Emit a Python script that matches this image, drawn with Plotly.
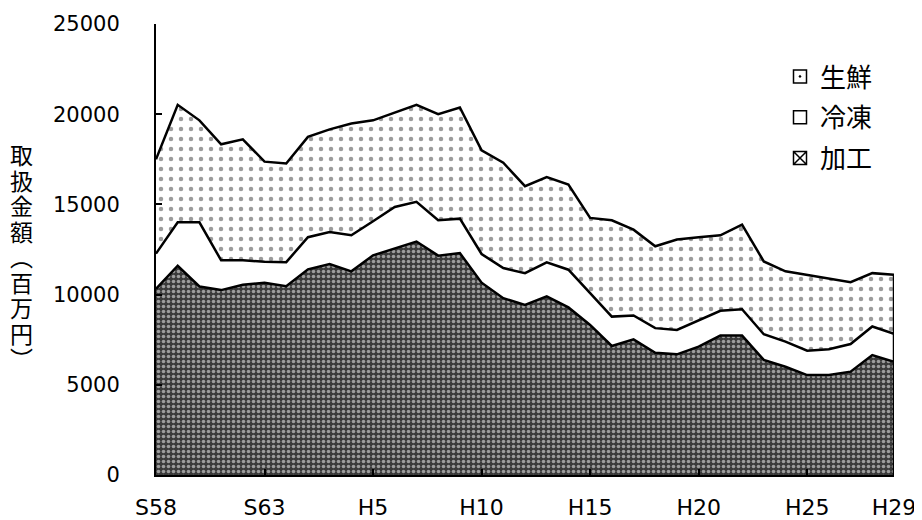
import plotly.graph_objects as go

years = ["S58", "S59", "S60", "S61", "S62", "S63"] + [f"H{i}" for i in range(1, 30)]
tick_labels = ["S58", "S63", "H5", "H10", "H15", "H20", "H25", "H29"]

kakou = [10320, 11600, 10450, 10250, 10550, 10660, 10470, 11400, 11690, 11290,
         12180, 12580, 12940, 12160, 12300, 10660, 9800, 9430, 9900, 9290,
         8320, 7150, 7520, 6780, 6690, 7120, 7730, 7730, 6380, 6000,
         5540, 5540, 5730, 6650, 6280]
reitou = [1950, 2410, 3560, 1650, 1350, 1160, 1330, 1780, 1780, 2000,
          1890, 2280, 2200, 1960, 1910, 1590, 1670, 1760, 1890, 2090,
          1760, 1630, 1320, 1360, 1350, 1440, 1370, 1460, 1420, 1390,
          1350, 1430, 1530, 1580, 1540]
seisen = [5230, 6510, 5650, 6430, 6710, 5550, 5470, 5560, 5690, 6190,
          5590, 5230, 5380, 5880, 6160, 5750, 5840, 4820, 4720, 4720,
          4170, 5340, 4760, 4540, 5010, 4620, 4190, 4690, 4040, 3900,
          4210, 3950, 3430, 2960, 3280]

names = ["加工", "冷凍", "生鮮"]
ytitle = "取扱金額︵百万円︶"

JP = "Noto Sans CJK JP"
NUM = "DejaVu Sans"

fig = go.Figure()
line = dict(color="black", width=2.5)

fig.add_trace(go.Scatter(
    x=years, y=kakou, name=names[0], stackgroup="one", mode="lines", line=line,
    fillcolor="#3a3a3a",
    fillpattern=dict(shape=".", fgcolor="white", bgcolor="#3a3a3a", size=5, solidity=0.4),
    showlegend=False))
fig.add_trace(go.Scatter(
    x=years, y=reitou, name=names[1], stackgroup="one", mode="lines", line=line,
    fillcolor="white", showlegend=False))
fig.add_trace(go.Scatter(
    x=years, y=seisen, name=names[2], stackgroup="one", mode="lines", line=line,
    fillcolor="white",
    fillpattern=dict(shape=".", fgcolor="#3a3a3a", bgcolor="white", size=10, solidity=0.16),
    showlegend=False))

# right edge of the stacked area
last_total = kakou[-1] + reitou[-1] + seisen[-1]
fig.add_trace(go.Scatter(x=[years[-1], years[-1]], y=[0, last_total], mode="lines",
                         line=line, showlegend=False, hoverinfo="skip"))

# legend entries
for nm, sym in [(names[2], "square-open-dot"), (names[1], "square-open"), (names[0], "square-x-open")]:
    fig.add_trace(go.Scatter(x=[None], y=[None], mode="markers", name=nm, legendgroup=nm,
                             marker=dict(symbol=sym, size=13, color="black",
                                         line=dict(color="black", width=1.5))))

# vertical y-axis title, one character per annotation
for k, ch in enumerate(ytitle):
    yc = 154 + k * 25.5
    fig.add_annotation(text=ch, xref="paper", yref="paper",
                       x=(21 - 156) / 738, y=(475 - yc) / 451,
                       showarrow=False, font=dict(family=JP, size=23, color="black"),
                       xanchor="center", yanchor="middle")

# the page body adds an 8px offset, so the figure is 8px smaller with 8px less left/top margin
fig.update_layout(
    width=914, height=512,
    margin=dict(l=148, r=28, t=16, b=45),
    paper_bgcolor="white", plot_bgcolor="white",
    showlegend=True,
    legend=dict(x=(780 - 156) / 738, y=(475 - 53) / 451, xanchor="left", yanchor="top",
                font=dict(family=JP, size=26, color="black"),
                traceorder="grouped", tracegroupgap=4, bgcolor="rgba(0,0,0,0)"),
    xaxis=dict(type="category", range=[0, len(years) - 1], tickmode="array",
               tickvals=tick_labels, ticktext=tick_labels, automargin=False,
               showline=True, linecolor="black", linewidth=2,
               ticks="inside", ticklen=6, tickwidth=2, tickcolor="black",
               showgrid=False, zeroline=False, ticklabelstandoff=12,
               tickfont=dict(family=NUM, size=22, color="black")),
    yaxis=dict(range=[0, 25000], tickvals=[0, 5000, 10000, 15000, 20000, 25000],
               tickformat="d", automargin=False,
               showline=True, linecolor="black", linewidth=2,
               ticks="inside", ticklen=6, tickwidth=2, tickcolor="black",
               showgrid=False, zeroline=False, ticklabelstandoff=30,
               tickfont=dict(family=NUM, size=21, color="black")),
)

fig.write_html("out.html")
